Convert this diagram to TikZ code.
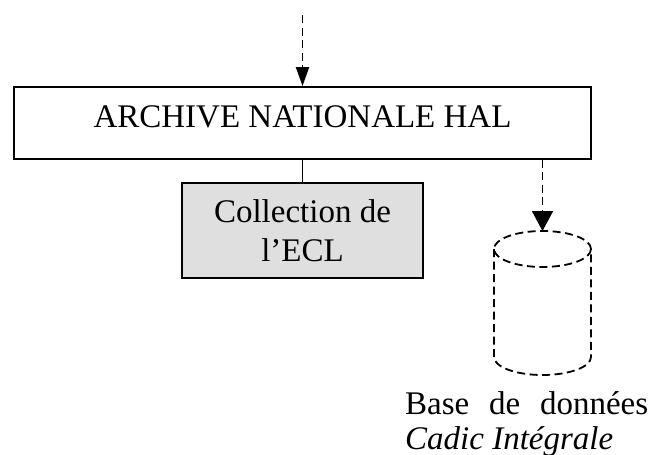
\documentclass[tikz,border=0pt]{standalone}
\usepackage{fontspec}
\setmainfont{Liberation Serif}
\usetikzlibrary{arrows.meta}

\tikzset{
  boite/.style={draw,line width=1.8pt,inner sep=0pt,font=\fontsize{33}{39}\selectfont,align=center},
  tirets/.style={line width=1.8pt,dash pattern=on 8pt off 4.5pt}
}

\begin{document}
\begin{tikzpicture}[x=1pt,y=-1pt]
                        \useasboundingbox (0,0) rectangle (654,455);
                        \coordinate (entree) at (302.5,15);
                        \node[boite,minimum width=577pt,minimum height=72pt,
                            text height=22pt,text depth=14pt] (hal) at (302.5,123) {ARCHIVE NATIONALE HAL};
                        \node[boite,fill=gray!25,minimum width=241pt,minimum height=95pt] (ecl) at (302.5,230.5)
                            {Collection de\\l'ECL};
                        % la base : un cylindre en tirets
                        \coordinate (base) at (542.5,231);
                        \draw[tirets] (542.5,249) ellipse [x radius=48.5,y radius=18];
                        \draw[tirets] (494,249) -- (494,357)
                            arc[start angle=180,end angle=0,x radius=48.5,y radius=18] -- (591,249);
                        \node[anchor=north west,inner sep=0pt,align=left,font=\fontsize{33}{35}\selectfont]
                            (legende) at (405,391) {\makebox[243pt][s]{Base de données}\\\textit{Cadic Intégrale}};
                        \draw[tirets,-{Triangle[width=13pt,length=19pt]}] (entree) -- (hal.north);
                        \draw[line width=1.8pt] (hal.south) -- (ecl.north);
                        \draw[tirets,-{Triangle[width=21pt,length=20pt]}] (hal.south -| base) -- (base);
                    \end{tikzpicture}
\end{document}
